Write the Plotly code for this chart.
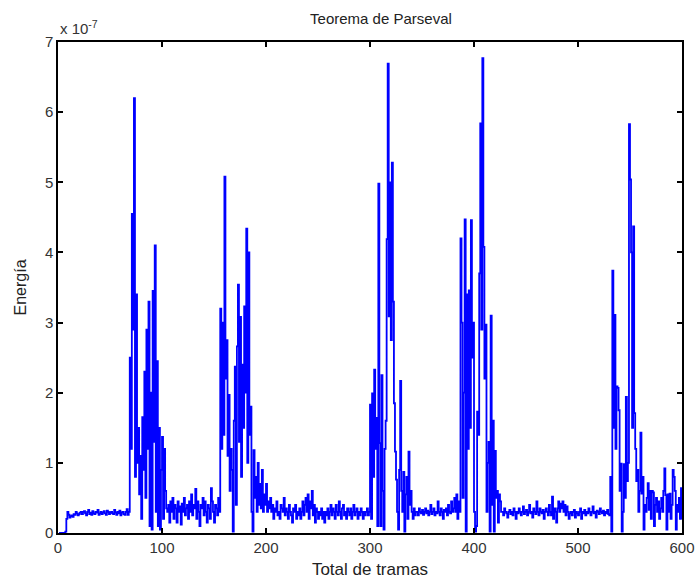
import plotly.graph_objects as go

# Energy per frame, in units of 1e-7 (frames 1..600)
energia = [
    0, 0, 0, 0, 0, 0, 0.02, 0.2, 0.3, 0.26,
    0.22, 0.24, 0.25, 0.23, 0.27, 0.26, 0.3, 0.28, 0.25, 0.27,
    0.29, 0.3, 0.27, 0.3, 0.31, 0.28, 0.25, 0.3, 0.33, 0.27,
    0.29, 0.26, 0.31, 0.28, 0.27, 0.3, 0.29, 0.33, 0.26, 0.28,
    0.3, 0.27, 0.29, 0.31, 0.28, 0.26, 0.32, 0.3, 0.27, 0.29,
    0.3, 0.28, 0.27, 0.33, 0.29, 0.26, 0.3, 0.28, 0.32, 0.25,
    0.29, 0.3, 0.27, 0.26, 0.3, 0.34, 0.26, 0.3, 2.5, 1.2,
    4.55, 2.9, 6.2, 0.8, 3.4, 1.0, 1.5, 0.55, 1.1, 0.2,
    1.65, 0.9, 2.3, 0.5, 2.9, 1.2, 3.3, 0.1, 2.0, 0.05,
    3.45, 1.3, 4.1, 0.3, 2.45, 0.1, 1.5, 0.05, 0.9, 1.37,
    0.2, 1.2, 0.6, 0.35, 0.3, 0.4, 0.15, 0.45, 0.3, 0.5,
    0.2, 0.4, 0.35, 0.15, 0.45, 0.3, 0.38, 0.12, 0.42, 0.3,
    0.5, 0.25, 0.35, 0.4, 0.2, 0.45, 0.3, 0.55, 0.25, 0.4,
    0.35, 0.63, 0.2, 0.45, 0.3, 0.1, 0.4, 0.35, 0.5, 0.25,
    0.45, 0.3, 0.15, 0.4, 0.35, 0.2, 0.64, 0.45, 0.3, 0.15,
    0.4, 0.35, 0.25, 0.5, 0.3, 3.2, 1.2, 3.0, 1.4, 5.08,
    2.2, 2.75, 1.1, 1.97, 0.6, 1.2, 0.9, 0.02, 1.6, 2.37,
    0.4, 2.66, 3.54, 1.3, 3.08, 0.8, 2.4, 1.5, 3.23, 2.0,
    4.34, 1.0, 4.0, 1.4, 1.8, 0.3, 0.02, 1.18, 0.5, 0.8,
    0.3, 1.0, 0.4, 0.7, 0.35, 0.9, 0.3, 0.55, 0.4, 0.7,
    0.3, 0.45, 0.35, 0.5, 0.3, 0.4, 0.2, 0.35, 0.3, 0.45,
    0.25, 0.3, 0.2, 0.4, 0.35, 0.3, 0.5, 0.25, 0.35, 0.3,
    0.2, 0.4, 0.3, 0.25, 0.15, 0.35, 0.3, 0.4, 0.2, 0.3,
    0.25, 0.35, 0.2, 0.3, 0.45, 0.25, 0.4, 0.5, 0.3, 0.55,
    0.2, 0.45, 0.35, 0.6, 0.25, 0.4, 0.15, 0.35, 0.3, 0.2,
    0.3, 0.25, 0.35, 0.2, 0.3, 0.15, 0.3, 0.25, 0.35, 0.2,
    0.3, 0.4, 0.25, 0.35, 0.3, 0.2, 0.4, 0.3, 0.25, 0.45,
    0.3, 0.2, 0.35, 0.4, 0.25, 0.3, 0.2, 0.35, 0.3, 0.25,
    0.35, 0.2, 0.3, 0.4, 0.25, 0.3, 0.35, 0.2, 0.3, 0.25,
    0.35, 0.3, 0.2, 0.3, 0.25, 0.3, 0.35, 0.25, 0.3, 1.83,
    0.2, 1.99, 0.8, 2.33, 1.2, 1.64, 0.1, 4.98, 1.28, 0.1,
    2.25, 0.6, 0.05, 1.2, 1.6, 4.19, 6.69, 3.09, 5.0, 2.75,
    5.28, 3.3, 1.85, 1.16, 0.76, 0.3, 0.05, 0.9, 2.17, 0.6,
    0.3, 0.87, 0.02, 0.55, 0.8, 0.2, 1.16, 0.4, 0.6, 0.3,
    0.2, 0.35, 0.25, 0.3, 0.3, 0.25, 0.35, 0.3, 0.28, 0.33,
    0.26, 0.3, 0.35, 0.28, 0.32, 0.25, 0.3, 0.4, 0.27, 0.3,
    0.35, 0.25, 0.3, 0.28, 0.45, 0.3, 0.25, 0.35, 0.3, 0.2,
    0.33, 0.3, 0.35, 0.25, 0.4, 0.3, 0.28, 0.45, 0.3, 0.35,
    0.5, 0.3, 0.55, 0.2, 0.45, 0.3, 4.2, 3.0, 0.5, 2.0,
    4.47, 0.02, 3.4, 1.2, 3.46, 1.5, 4.46, 2.5, 3.0, 0.3,
    0.02, 0.1, 1.73, 1.4, 3.7, 5.84, 2.9, 6.77, 4.08, 2.2,
    2.97, 0.3, 1.0, 1.3, 0.02, 3.1, 0.4, 1.6, 0.02, 1.17,
    0.5, 0.6, 0.15, 0.55, 0.45, 0.3, 0.3, 0.25, 0.35, 0.3,
    0.28, 0.22, 0.3, 0.33, 0.27, 0.3, 0.25, 0.35, 0.3, 0.2,
    0.3, 0.28, 0.35, 0.3, 0.25, 0.3, 0.38, 0.27, 0.3, 0.33,
    0.25, 0.3, 0.4, 0.28, 0.3, 0.22, 0.35, 0.3, 0.27, 0.45,
    0.3, 0.25, 0.35, 0.3, 0.28, 0.33, 0.2, 0.3, 0.35, 0.3,
    0.25, 0.4, 0.3, 0.25, 0.52, 0.2, 0.35, 0.3, 0.15, 0.35,
    0.45, 0.3, 0.42, 0.35, 0.45, 0.3, 0.4, 0.25, 0.38, 0.3,
    0.2, 0.28, 0.3, 0.25, 0.3, 0.33, 0.22, 0.3, 0.28, 0.25,
    0.3, 0.35, 0.2, 0.3, 0.28, 0.33, 0.25, 0.3, 0.28, 0.35,
    0.3, 0.25, 0.3, 0.38, 0.28, 0.3, 0.22, 0.32, 0.3, 0.27,
    0.35, 0.3, 0.28, 0.32, 0.25, 0.3, 0.28, 0.33, 0.27, 0.25,
    0.8, 0.02, 3.74, 1.5, 3.11, 1.2, 2.09, 2.07, 1.75, 0.6,
    0.99, 0.02, 0.3, 0.98, 0.5, 1.94, 0.74, 1.0, 5.83, 5.04,
    4.0, 1.5, 4.37, 1.71, 1.2, 0.74, 0.9, 0.3, 0.6, 1.43,
    0.56, 0.8, 0.05, 0.4, 0.3, 0.5, 0.71, 0.33, 0.6, 0.2,
    0.6, 0.58, 0.1, 0.4, 0.5, 0.3, 0.45, 0.2, 0.35, 0.5,
    0.3, 0.6, 0.92, 0.54, 0.05, 0.55, 0.3, 0.56, 0.2, 0.4,
    0.9, 0.8, 0.6, 0.05, 0.4, 0.3, 0.5, 0.2, 0.64, 0.2,
]
tramas = list(range(1, len(energia) + 1))

x_ticks = [0, 100, 200, 300, 400, 500, 600]
y_ticks = [0, 1, 2, 3, 4, 5, 6, 7]

FONT = "Liberation Sans, Arial, sans-serif"

fig = go.Figure()
fig.add_trace(go.Scatter(
    x=tramas, y=energia, mode="lines",
    line=dict(color="#0000ff", width=1.8, shape="hv"),
    showlegend=False, hoverinfo="skip",
))

axis_common = dict(
    showline=True, linecolor="black", linewidth=1.5, mirror="ticks",
    ticks="inside", ticklen=5, tickwidth=1.5, tickcolor="black",
    showgrid=False, zeroline=False, automargin=False,
    tickfont=dict(family=FONT, size=15, color="#333333"),
)

fig.update_layout(
    width=699, height=583,
    margin=dict(l=58, r=17, t=42, b=50),
    paper_bgcolor="white", plot_bgcolor="white",
    title=dict(text="Teorema de Parseval", x=0.545, xanchor="center",
               y=0.968, yanchor="middle",
               font=dict(family=FONT, size=15, color="#222222")),
    xaxis=dict(range=[0, 600], tickvals=x_ticks,
               ticktext=[str(v) for v in x_ticks],
               title=dict(text="Total de tramas", standoff=8,
                          font=dict(family=FONT, size=17, color="#222222")),
               **axis_common),
    yaxis=dict(range=[0, 7], tickvals=y_ticks,
               ticktext=[str(v) for v in y_ticks],
               title=dict(text="Energía", standoff=14,
                          font=dict(family=FONT, size=16, color="#222222")),
               **axis_common),
    annotations=[dict(
        text="x 10<sup>-7</sup>", xref="paper", yref="paper",
        x=0.0, y=1.0, xanchor="left", yanchor="bottom", yshift=3,
        showarrow=False,
        font=dict(family=FONT, size=15, color="#333333"),
    )],
)

fig.write_html("out.html")
